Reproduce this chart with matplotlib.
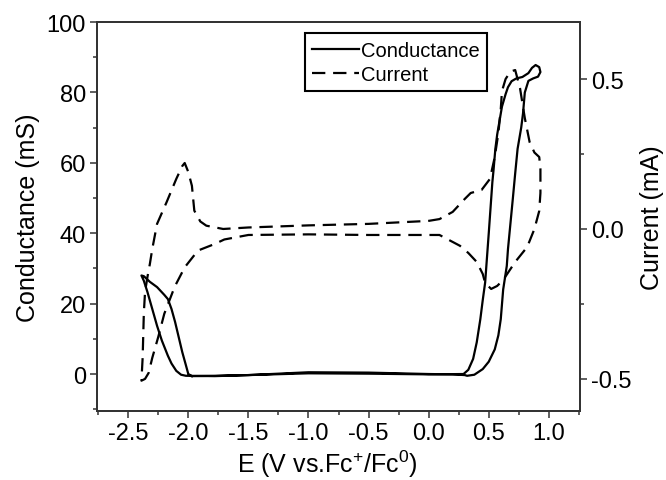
import numpy as np
import matplotlib
matplotlib.use("Agg")
import matplotlib.pyplot as plt
from matplotlib.ticker import MultipleLocator, FormatStrFormatter

plt.rcParams['font.family'] = ['Liberation Sans', 'DejaVu Sans']
plt.rcParams['mathtext.fontset'] = 'custom'
plt.rcParams['mathtext.rm'] = 'Liberation Sans'
plt.rcParams['mathtext.default'] = 'regular'

# conductance loop (E in V vs Fc+/Fc0, G in mS)
e_cond = [-1.97, -1.78, -1.5, -1.0, -0.5, 0.0, 0.20, 0.30,
          0.32, 0.38, 0.45, 0.50, 0.55, 0.58, 0.60, 0.62, 0.65, 0.66, 0.70, 0.72, 0.74, 0.77, 0.785, 0.80, 0.83,
          0.87, 0.91, 0.93, 0.92, 0.89, 0.86, 0.83, 0.78,
          0.73, 0.69, 0.66, 0.64, 0.61, 0.59, 0.57, 0.555, 0.54, 0.53, 0.50, 0.47, 0.45, 0.43, 0.40, 0.37, 0.33, 0.29,
          0.0, -0.5, -1.0, -1.5, -1.78, -2.02,
          -2.06, -2.10, -2.14, -2.17, -2.22, -2.26, -2.30, -2.34, -2.37, -2.39,
          -2.37, -2.32, -2.26, -2.20, -2.17, -2.14, -2.11, -2.08, -2.05, -2.02, -2.00, -1.97]
g_cond = [-0.6, -0.5, -0.3, 0.5, 0.4, 0.0, -0.1, -0.3,
          -0.5, -0.2, 1.4, 3.5, 7.0, 11.0, 15.6, 24.0, 30.7, 35.5, 49.7, 57.0, 64.0, 70.0, 74.0, 80.0, 83.3,
          84.0, 84.5, 85.8, 87.2, 87.8, 87.0, 85.5, 84.4,
          84.0, 83.2, 81.5, 79.5, 76.0, 72.0, 68.0, 64.0, 58.0, 54.5, 40.0, 26.0, 21.0, 15.6, 9.0, 4.3, 1.2, 0.0,
          -0.1, 0.1, 0.2, -0.3, -0.6, -0.5,
          -0.2, 0.9, 3.0, 5.2, 9.5, 13.7, 18.5, 23.3, 26.5, 28.0,
          27.8, 26.2, 24.7, 22.5, 21.3, 18.5, 14.8, 10.5, 6.2, 2.5, 0.0, -0.6]

# cyclic voltammogram (E in V, I in mA)
e_cur = [0.00, 0.09, 0.20, 0.30, 0.35, 0.44, 0.51, 0.55, 0.58, 0.60, 0.61, 0.64, 0.68, 0.72, 0.76, 0.80,
         0.84, 0.88, 0.92, 0.93, 0.93, 0.92, 0.88, 0.82, 0.72, 0.62, 0.57, 0.52, 0.47, 0.45, 0.40, 0.33,
         0.26, 0.09, -0.5, -1.0, -1.5, -1.7, -1.78, -1.92, -2.03, -2.11, -2.13, -2.20, -2.25, -2.30, -2.33,
         -2.36, -2.39, -2.38, -2.37, -2.36, -2.34, -2.32, -2.30, -2.26, -2.18, -2.10, -2.05, -2.03, -2.00,
         -1.97, -1.95, -1.90, -1.85, -1.71, -1.5, -1.0, -0.5, 0.0]
i_cur = [0.027, 0.033, 0.057, 0.10, 0.12, 0.13, 0.167, 0.24, 0.32, 0.40, 0.46, 0.50, 0.525, 0.53, 0.47, 0.37,
         0.29, 0.255, 0.24, 0.20, 0.12, 0.06, 0.0, -0.06, -0.11, -0.17, -0.19, -0.20, -0.18, -0.15, -0.11, -0.08,
         -0.056, -0.02, -0.02, -0.018, -0.02, -0.035, -0.05, -0.072, -0.128, -0.19, -0.21, -0.283, -0.36, -0.43, -0.48,
         -0.50, -0.506, -0.43, -0.28, -0.21, -0.16, -0.117, -0.067, 0.017, 0.09, 0.167, 0.21, 0.22, 0.19,
         0.144, 0.061, 0.025, 0.011, 0.0, 0.005, 0.012, 0.017, 0.027]

fig = plt.figure(figsize=(6.66, 4.81), dpi=100)
ax = fig.add_axes([0.1456, 0.1435, 0.7254, 0.8085])
ax2 = ax.twinx()

l1, = ax.plot(e_cond, g_cond, color='black', lw=1.6, label='Conductance')
l2, = ax2.plot(e_cur, i_cur, color='black', lw=1.6, ls=(0, (6, 3.5)), label='Current')

ax.set_xlim(-2.76, 1.26)
ax.set_ylim(-10.5, 100)
ax2.set_ylim(-0.607, 0.69)

ax.xaxis.set_major_locator(MultipleLocator(0.5))
ax.xaxis.set_minor_locator(MultipleLocator(0.25))
ax.yaxis.set_major_locator(MultipleLocator(20))
ax.yaxis.set_minor_locator(MultipleLocator(10))
ax2.yaxis.set_major_locator(MultipleLocator(0.5))
ax2.yaxis.set_minor_locator(MultipleLocator(0.25))
ax.xaxis.set_major_formatter(FormatStrFormatter('%.1f'))
ax2.yaxis.set_major_formatter(FormatStrFormatter('%.1f'))

spine_col = '#333333'
for a in (ax, ax2):
    for s in a.spines.values():
        s.set_color(spine_col)
        s.set_linewidth(1.3)
    a.tick_params(which='major', direction='out', length=5, width=1.1, color=spine_col,
                  labelsize=17, pad=3)
    a.tick_params(which='minor', direction='out', length=3, width=1.1, color=spine_col)
ax.tick_params(axis='y', which='both', right=False)

ax.set_xlabel('E (V vs.Fc$^{+}$/Fc$^{0}$)', fontsize=18)
ax.set_ylabel('Conductance (mS)', fontsize=18)
ax2.set_ylabel('Current (mA)', fontsize=18)
ax.xaxis.set_label_coords(0.476, -0.095)
ax.yaxis.set_label_coords(-0.118, 0.5)
ax2.yaxis.set_label_coords(1.124, 0.5)

leg = ax.legend(handles=[l1, l2], loc='upper left', bbox_to_anchor=(0.43, 0.972),
                borderaxespad=0, fancybox=False, edgecolor='black', framealpha=1,
                fontsize=14.5, handlelength=2.3, handletextpad=0.1, borderpad=0.38,
                labelspacing=0.25)
leg.get_frame().set_linewidth(1.5)
leg.set_zorder(5)

plt.savefig('out.png', dpi=100)
